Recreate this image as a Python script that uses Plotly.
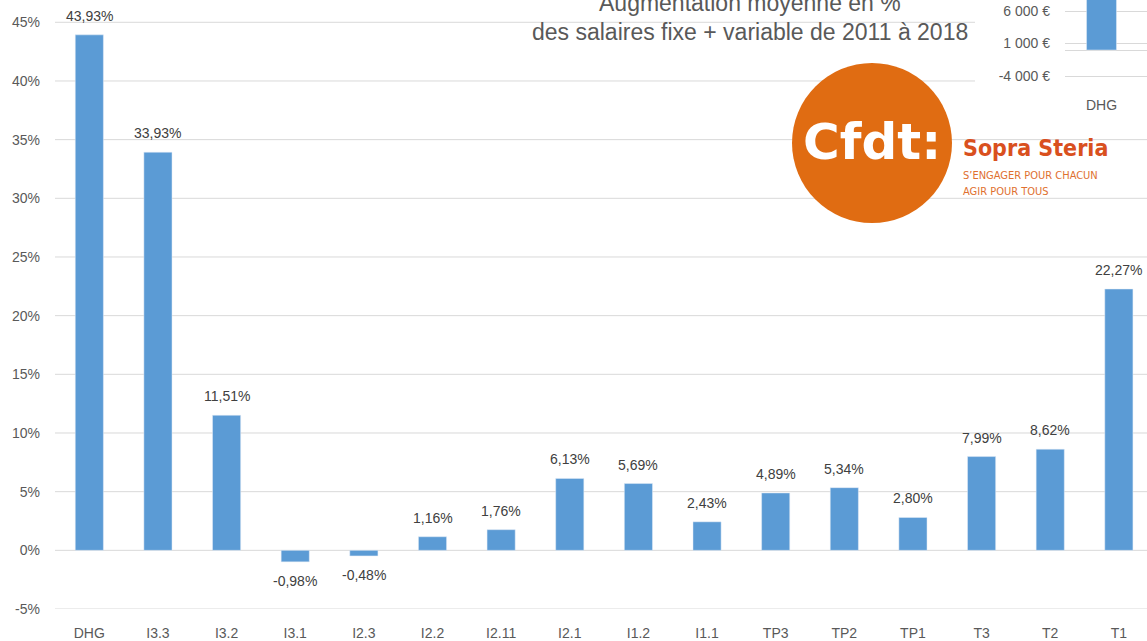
import plotly.graph_objects as go

# ---------------- data ----------------
categories = ["DHG", "I3.3", "I3.2", "I3.1", "I2.3", "I2.2", "I2.11", "I2.1",
              "I1.2", "I1.1", "TP3", "TP2", "TP1", "T3", "T2", "T1"]
values = [43.93, 33.93, 11.51, -0.98, -0.48, 1.16, 1.76, 6.13,
          5.69, 2.43, 4.89, 5.34, 2.80, 7.99, 8.62, 22.27]
y_ticks = [-5, 0, 5, 10, 15, 20, 25, 30, 35, 40, 45]
y_ticklabels = ["-5%", "0%", "5%", "10%", "15%", "20%", "25%", "30%", "35%", "40%", "45%"]

inset_categories = ["DHG"]
inset_values = [15000]
inset_ticks = [-4000, 1000, 6000]
inset_ticklabels = ["-4 000 €", "1 000 €", "6 000 €"]

title_lines = ["Augmentation moyenne en %", "des salaires fixe + variable de 2011 à 2018"]
logo_main = "Cfdt:"
logo_brand = "Sopra Steria"
logo_tag = ["S’ENGAGER POUR CHACUN", "AGIR POUR TOUS"]

# ---------------- layout helpers ----------------
W, H = 1147, 641
ML, MR, MT, MB = 55, 0, 0, 32
PW, PH = W - ML - MR, H - MT - MB


def px(x):
    return (x - ML) / PW


def py(y):
    return (PH - y) / PH


BAR = "#5B9BD5"
GRID = "#D9D9D9"
TXT = "#595959"
LBL = "#404040"
FONT = "Liberation Sans, Arial, sans-serif"
COND = "DejaVu Sans Condensed, Liberation Sans Narrow, sans-serif"


def fmt(v):
    return f"{v:.2f}".replace(".", ",") + "%"


fig = go.Figure()
fig.add_trace(go.Bar(x=categories, y=values, marker=dict(color=BAR), xaxis="x", yaxis="y",
                     hoverinfo="skip"))
fig.add_trace(go.Bar(x=inset_categories, y=inset_values, marker=dict(color=BAR),
                     xaxis="x2", yaxis="y2", hoverinfo="skip"))

shapes = []
# main gridlines (stop before the inset for the top ones)
for t in y_ticks:
    x_end = px(975) if t >= 40 else 1.0
    shapes.append(dict(type="line", xref="paper", yref="y", x0=0, x1=x_end, y0=t, y1=t,
                       line=dict(color=GRID, width=1), layer="below"))
# logo circle
shapes.append(dict(type="circle", xref="paper", yref="paper",
                   x0=px(792), x1=px(952), y0=py(223), y1=py(63),
                   fillcolor="#E06C12", line=dict(width=0), layer="above"))

annotations = []
for c, v in zip(categories, values):
    annotations.append(dict(x=c, y=v, xref="x", yref="y", text=fmt(v), showarrow=False,
                            yanchor="middle", yshift=19 if v >= 0 else -19,
                            font=dict(family=FONT, size=14, color=LBL)))

annotations.append(dict(x=px(750), y=py(3), xref="paper", yref="paper", text=title_lines[0],
                        showarrow=False, xanchor="center", yanchor="middle",
                        font=dict(family=FONT, size=23, color=TXT)))
annotations.append(dict(x=px(750), y=py(32), xref="paper", yref="paper", text=title_lines[1],
                        showarrow=False, xanchor="center", yanchor="middle",
                        font=dict(family=FONT, size=23, color=TXT)))

annotations.append(dict(x=px(872), y=py(142), xref="paper", yref="paper", text=logo_main,
                        showarrow=False, xanchor="center", yanchor="middle",
                        font=dict(family="DejaVu Sans, sans-serif", size=50,
                                  color="white", weight=700)))
annotations.append(dict(x=px(961), y=py(148), xref="paper", yref="paper", text=logo_brand,
                        showarrow=False, xanchor="left", yanchor="middle",
                        font=dict(family=COND, size=23, color="#D9501E", weight=700)))
annotations.append(dict(x=px(961), y=py(175), xref="paper", yref="paper", text=logo_tag[0],
                        showarrow=False, xanchor="left", yanchor="middle",
                        font=dict(family=COND, size=11, color="#E0702F")))
annotations.append(dict(x=px(961), y=py(192), xref="paper", yref="paper", text=logo_tag[1],
                        showarrow=False, xanchor="left", yanchor="middle",
                        font=dict(family=COND, size=11, color="#E0702F")))

fig.update_layout(
    width=W, height=H,
    margin=dict(l=ML, r=MR, t=MT, b=MB, autoexpand=False),
    paper_bgcolor="white", plot_bgcolor="rgba(0,0,0,0)",
    showlegend=False, bargap=0.59,
    shapes=shapes, annotations=annotations,
    xaxis=dict(domain=[0, 1], type="category", range=[-0.5, 15.41], showgrid=False,
               zeroline=False, showline=False, ticks="", ticklabelstandoff=14,
               tickfont=dict(family=FONT, size=14, color=TXT), automargin=False),
    yaxis=dict(domain=[0, 1], range=[-5, 46.9], tickvals=y_ticks, ticktext=y_ticklabels,
               showgrid=False, zeroline=False, showline=False, ticks="",
               ticklabelstandoff=14, tickfont=dict(family=FONT, size=14, color=TXT),
               automargin=False),
    xaxis2=dict(domain=[px(1065), 1.0], anchor="y2", type="category", range=[-0.5, 0.623],
                showgrid=False, zeroline=False, showline=False, ticks="",
                ticklabelstandoff=5, tickfont=dict(family=FONT, size=14, color=TXT),
                automargin=False),
    yaxis2=dict(domain=[py(90), 1.0], anchor="x2", range=[-6154, 7692],
                tickvals=inset_ticks, ticktext=inset_ticklabels, showgrid=True,
                gridcolor=GRID, gridwidth=1, zeroline=True, zerolinecolor=GRID,
                zerolinewidth=1, showline=False, ticks="", ticklabelstandoff=14,
                tickfont=dict(family=FONT, size=14, color=TXT), automargin=False),
)

fig.write_html("out.html", config={"displayModeBar": False, "staticPlot": True},
               post_script="document.body.style.margin='0px';document.body.style.overflow='hidden';")
